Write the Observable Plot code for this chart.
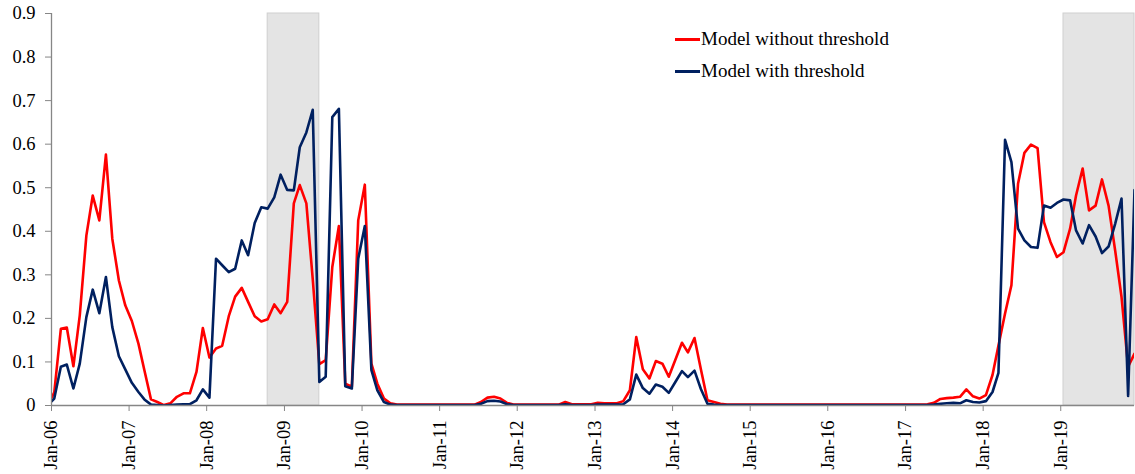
<!DOCTYPE html>
<html>
<head>
<meta charset="utf-8">
<script src="https://cdn.jsdelivr.net/npm/d3@7"></script>
<script src="https://cdn.jsdelivr.net/npm/@observablehq/plot@0.6"></script>
<style>
  html, body { margin: 0; padding: 0; background: #fff; }
  #chart { position: relative; width: 1135px; height: 474px; font-family: "Liberation Serif", serif; }
  .legend { position: absolute; left: 675px; font-family: "Liberation Serif", serif; font-size: 19px; color: #000; line-height: 1; white-space: nowrap; }
  .legend .sw { display: inline-block; width: 25px; height: 3px; vertical-align: middle; margin-right: 1px; position: relative; top: -1px; }
</style>
</head>
<body>
<div id="chart"></div>
<script>
// Monthly series, first value = Dec-05, then Jan-06 ... Dec-19
const firstMonth = { year: 2005, month: 11 };

const seriesNames = ["Model without threshold", "Model with threshold"];
const seriesColors = ["#ff0000", "#002060"];

const withoutThreshold = [
  0,
  0.03, 0.176, 0.179, 0.09, 0.207, 0.39, 0.482, 0.425, 0.576, 0.383, 0.287, 0.23,
  0.194, 0.142, 0.081, 0.014, 0.008, 0.001, 0.005, 0.02, 0.028, 0.028, 0.077, 0.178,
  0.11, 0.131, 0.137, 0.205, 0.25, 0.27, 0.238, 0.205, 0.193, 0.198, 0.232, 0.212,
  0.238, 0.464, 0.506, 0.464, 0.29, 0.095, 0.104, 0.318, 0.412, 0.05, 0.043, 0.425,
  0.507, 0.096, 0.05, 0.016, 0.005, 0.002, 0.002, 0.002, 0.002, 0.002, 0.002, 0.002,
  0.002, 0.002, 0.002, 0.002, 0.002, 0.002, 0.008, 0.018, 0.02, 0.016, 0.006, 0.002,
  0.002, 0.002, 0.002, 0.002, 0.002, 0.002, 0.002, 0.008, 0.003, 0.003, 0.003, 0.003,
  0.006, 0.005, 0.005, 0.005, 0.01, 0.035, 0.157, 0.083, 0.062, 0.102, 0.096, 0.066,
  0.105, 0.144, 0.122, 0.155, 0.083, 0.012, 0.008, 0.004, 0.002, 0.002, 0.002, 0.002,
  0.002, 0.002, 0.002, 0.002, 0.002, 0.002, 0.002, 0.002, 0.002, 0.002, 0.002, 0.002,
  0.002, 0.002, 0.002, 0.002, 0.002, 0.002, 0.002, 0.002, 0.002, 0.002, 0.002, 0.002,
  0.002, 0.002, 0.002, 0.003, 0.006, 0.015, 0.017, 0.018, 0.02, 0.037, 0.021, 0.016,
  0.024, 0.07, 0.138, 0.211, 0.276, 0.509, 0.58, 0.599, 0.591, 0.421, 0.375, 0.341,
  0.352, 0.406, 0.482, 0.544, 0.448, 0.459, 0.519, 0.459, 0.356, 0.249, 0.089, 0.119
];

const withThreshold = [
  0,
  0.016, 0.089, 0.094, 0.039, 0.096, 0.203, 0.266, 0.212, 0.295, 0.18, 0.113, 0.083,
  0.052, 0.031, 0.014, 0.002, 0.001, 0, 0.001, 0.002, 0.003, 0.003, 0.012, 0.037,
  0.018, 0.337, 0.322, 0.306, 0.314, 0.379, 0.345, 0.419, 0.455, 0.452, 0.478, 0.53,
  0.495, 0.494, 0.593, 0.627, 0.679, 0.054, 0.066, 0.662, 0.681, 0.044, 0.039, 0.337,
  0.412, 0.081, 0.035, 0.008, 0.002, 0.001, 0.001, 0.001, 0.001, 0.001, 0.001, 0.001,
  0.001, 0.001, 0.001, 0.001, 0.001, 0.001, 0.004, 0.01, 0.011, 0.009, 0.003, 0.001,
  0.001, 0.001, 0.001, 0.001, 0.001, 0.001, 0.001, 0.003, 0.001, 0.001, 0.001, 0.001,
  0.002, 0.002, 0.002, 0.002, 0.003, 0.014, 0.071, 0.04, 0.027, 0.048, 0.043, 0.029,
  0.054, 0.079, 0.065, 0.08, 0.038, 0.004, 0.002, 0.001, 0.001, 0.001, 0.001, 0.001,
  0.001, 0.001, 0.001, 0.001, 0.001, 0.001, 0.001, 0.001, 0.001, 0.001, 0.001, 0.001,
  0.001, 0.001, 0.001, 0.001, 0.001, 0.001, 0.001, 0.001, 0.001, 0.001, 0.001, 0.001,
  0.001, 0.001, 0.001, 0.001, 0.002, 0.004, 0.005, 0.006, 0.005, 0.012, 0.008, 0.007,
  0.01, 0.031, 0.075, 0.61, 0.559, 0.406, 0.379, 0.364, 0.362, 0.459, 0.454, 0.465,
  0.473, 0.471, 0.402, 0.372, 0.414, 0.388, 0.35, 0.365, 0.417, 0.475, 0.022, 0.495
];

// Shaded periods (first and last month covered)
const shadedStart = ["2008-10", "2019-01"];
const shadedEnd = ["2009-06", "2019-12"];

const xTickLabels = ["Jan-06","Jan-07","Jan-08","Jan-09","Jan-10","Jan-11","Jan-12","Jan-13","Jan-14","Jan-15","Jan-16","Jan-17","Jan-18","Jan-19"];
const yTickValues = [0, 0.1, 0.2, 0.3, 0.4, 0.5, 0.6, 0.7, 0.8, 0.9];
const yTickLabels = ["0","0.1","0.2","0.3","0.4","0.5","0.6","0.7","0.8","0.9"];

// Excel plots each monthly point slightly after the 1st of the month
const DAY = 14;
const monthDate = (i) => new Date(Date.UTC(firstMonth.year, firstMonth.month + i, DAY));
const parseMonth = (s) => { const [y, m] = s.split("-").map(Number); return new Date(Date.UTC(y, m - 1, DAY)); };

const rows = [];
[withoutThreshold, withThreshold].forEach((arr, s) => {
  arr.forEach((v, i) => rows.push({ date: monthDate(i), value: v, series: seriesNames[s] }));
});
const bands = shadedStart.map((s, i) => ({ start: parseMonth(s), end: parseMonth(shadedEnd[i]) }));
const xTicks = xTickLabels.map((l) => new Date(Date.UTC(2000 + Number(l.slice(4)), 0, 1)));

const xDomain = [new Date(Date.UTC(2006, 0, 1)), monthDate(withoutThreshold.length - 1)];
const axisGrey = "#868686";
const SERIF = "Liberation Serif";

const chart = Plot.plot({
  width: 1135,
  height: 474,
  marginLeft: 51,
  marginRight: 1,
  marginTop: 13,
  marginBottom: 69,
  style: { fontFamily: SERIF, fontSize: "18.5px", color: "#000", background: "#fff" },
  x: { type: "utc", domain: xDomain },
  y: { domain: [0, 0.9] },
  marks: [
    Plot.rect(bands, { x1: "start", x2: "end", fill: "#e4e4e4", stroke: "#cfcfcf", strokeWidth: 1 }),
    Plot.line(rows.filter(d => d.series === seriesNames[0]), { x: "date", y: "value", stroke: seriesColors[0], strokeWidth: 2.6, clip: true }),
    Plot.line(rows.filter(d => d.series === seriesNames[1]), { x: "date", y: "value", stroke: seriesColors[1], strokeWidth: 2.6, clip: true }),
    Plot.ruleY([0], { stroke: axisGrey, strokeWidth: 1.3 }),
    Plot.ruleX([xDomain[0]], { stroke: axisGrey, strokeWidth: 1.3 }),
    Plot.axisY({ ticks: yTickValues, tickFormat: (d, i) => yTickLabels[i], tickSize: 6, tickPadding: 10, stroke: axisGrey, fill: "#000", fontFamily: SERIF, fontSize: 18.5, label: null }),
    Plot.axisX({ ticks: xTicks, tickFormat: (d, i) => xTickLabels[i], tickSize: 6, tickPadding: 9, tickRotate: -90, stroke: axisGrey, fill: "#000", fontFamily: SERIF, fontSize: 18.5, label: null })
  ]
});

d3.select(chart).selectAll("text, g").style("font-family", SERIF, "important");

const host = document.getElementById("chart");
host.appendChild(chart);

const legendTops = [29, 61];
seriesNames.forEach((name, i) => {
  const div = document.createElement("div");
  div.className = "legend";
  div.style.top = legendTops[i] + "px";
  const sw = document.createElement("span");
  sw.className = "sw";
  sw.style.background = seriesColors[i];
  div.appendChild(sw);
  div.appendChild(document.createTextNode(name));
  host.appendChild(div);
});
</script>
</body>
</html>
